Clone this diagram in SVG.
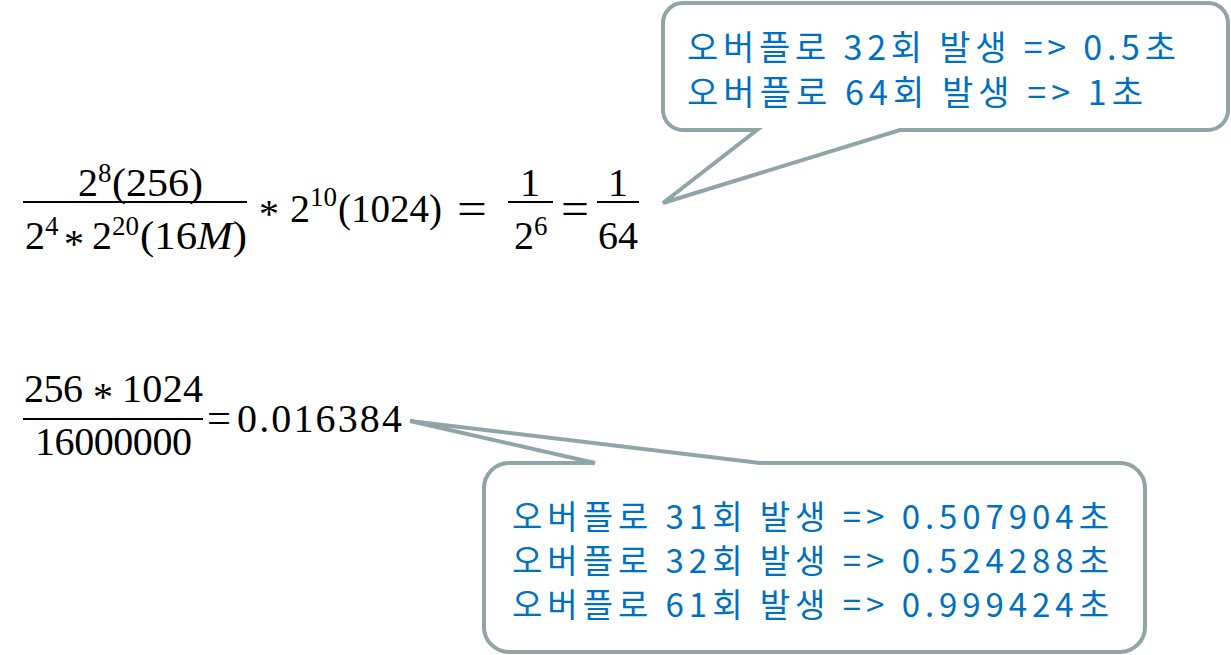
<svg xmlns="http://www.w3.org/2000/svg" width="1231" height="655" viewBox="0 0 1231 655">
<style>
.m{font-family:"Liberation Serif","DejaVu Serif",serif;font-size:40px;fill:#000}
.s{font-family:"Liberation Serif","DejaVu Serif",serif;font-size:27px;fill:#000}
.eq{font-family:"Liberation Serif","DejaVu Serif",serif;font-size:46px;fill:#000}
.eq2{font-family:"Liberation Serif","DejaVu Serif",serif;font-size:42px;fill:#000}
.i{font-style:italic}
.bar{stroke:#000;stroke-width:2.2}
.callout{fill:#fff;stroke:#8FA5A6;stroke-width:4;stroke-linejoin:miter}
.k{font-family:"Noto Sans CJK KR","Noto Sans",sans-serif;font-size:34px;fill:#0070C0}
.kb{font-family:"Noto Sans CJK KR","Noto Sans",sans-serif;font-size:33px;fill:#0070C0}
</style>
<rect width="1231" height="655" fill="#fff"/>

<g id="equation1">
  <text class="m" x="78" y="196">2</text>
  <text class="s" x="98" y="182">8</text>
  <text class="m" x="112" y="196" textLength="91" lengthAdjust="spacingAndGlyphs">(256)</text>
  <line class="bar" x1="23" y1="202" x2="247" y2="202"/>
  <text class="m" x="25" y="249">2</text>
  <text class="s" x="45" y="235">4</text>
  <text class="m" x="64" y="257">*</text>
  <text class="m" x="92" y="249">2</text>
  <text class="s" x="112" y="235" textLength="27">20</text>
  <text class="m" x="140" y="249" textLength="107" lengthAdjust="spacingAndGlyphs">(16<tspan class="i">M</tspan>)</text>
  <text class="m" x="259" y="227">*</text>
  <text class="m" x="290" y="222">2</text>
  <text class="s" x="310" y="206" textLength="27">10</text>
  <text class="m" x="338" y="222" textLength="104" lengthAdjust="spacingAndGlyphs">(1024)</text>
  <text class="eq" x="457" y="224" textLength="30" lengthAdjust="spacingAndGlyphs">=</text>
  <text class="m" x="520" y="196">1</text>
  <line class="bar" x1="508" y1="202" x2="553" y2="202"/>
  <text class="m" x="514" y="249">2</text>
  <text class="s" x="534" y="235">6</text>
  <text class="eq" x="561" y="224" textLength="28" lengthAdjust="spacingAndGlyphs">=</text>
  <text class="m" x="608" y="196">1</text>
  <line class="bar" x1="597" y1="202" x2="639" y2="202"/>
  <text class="m" x="598" y="249" textLength="40">64</text>
</g>

<g id="equation2">
  <text class="m" x="24" y="402" textLength="59">256</text>
  <text class="m" x="93" y="410">*</text>
  <text class="m" x="122" y="402" textLength="81">1024</text>
  <line class="bar" x1="23" y1="419" x2="203" y2="419"/>
  <text class="m" x="35" y="455" textLength="157">16000000</text>
  <text class="eq2" x="207" y="432" textLength="24" lengthAdjust="spacingAndGlyphs">=</text>
  <text class="m" x="237" y="432" textLength="165">0.016384</text>
</g>

<g id="callouts">
  <g id="callout-top">
    <path class="callout" d="M683,3 H1208 A20,20 0 0 1 1228,23 V110 A20,20 0 0 1 1208,130 H900 L663,203 L757,130 H683 A20,20 0 0 1 663,110 V23 A20,20 0 0 1 683,3 Z"/>
    <text class="k" x="687" y="60" textLength="489">오버플로 32회 발생 =&gt; 0.5초</text>
    <text class="k" x="687" y="105" textLength="456">오버플로 64회 발생 =&gt; 1초</text>
  </g>
  <g id="callout-bottom">
    <path class="callout" d="M509,463 H595 L410,421 L760,463 H1120 A25,25 0 0 1 1145,488 V627 A25,25 0 0 1 1120,652 H509 A25,25 0 0 1 484,627 V488 A25,25 0 0 1 509,463 Z"/>
    <text class="kb" x="512" y="529" textLength="597">오버플로 31회 발생 =&gt; 0.507904초</text>
    <text class="kb" x="512" y="573" textLength="597">오버플로 32회 발생 =&gt; 0.524288초</text>
    <text class="kb" x="512" y="617" textLength="597">오버플로 61회 발생 =&gt; 0.999424초</text>
  </g>
</g>
</svg>
